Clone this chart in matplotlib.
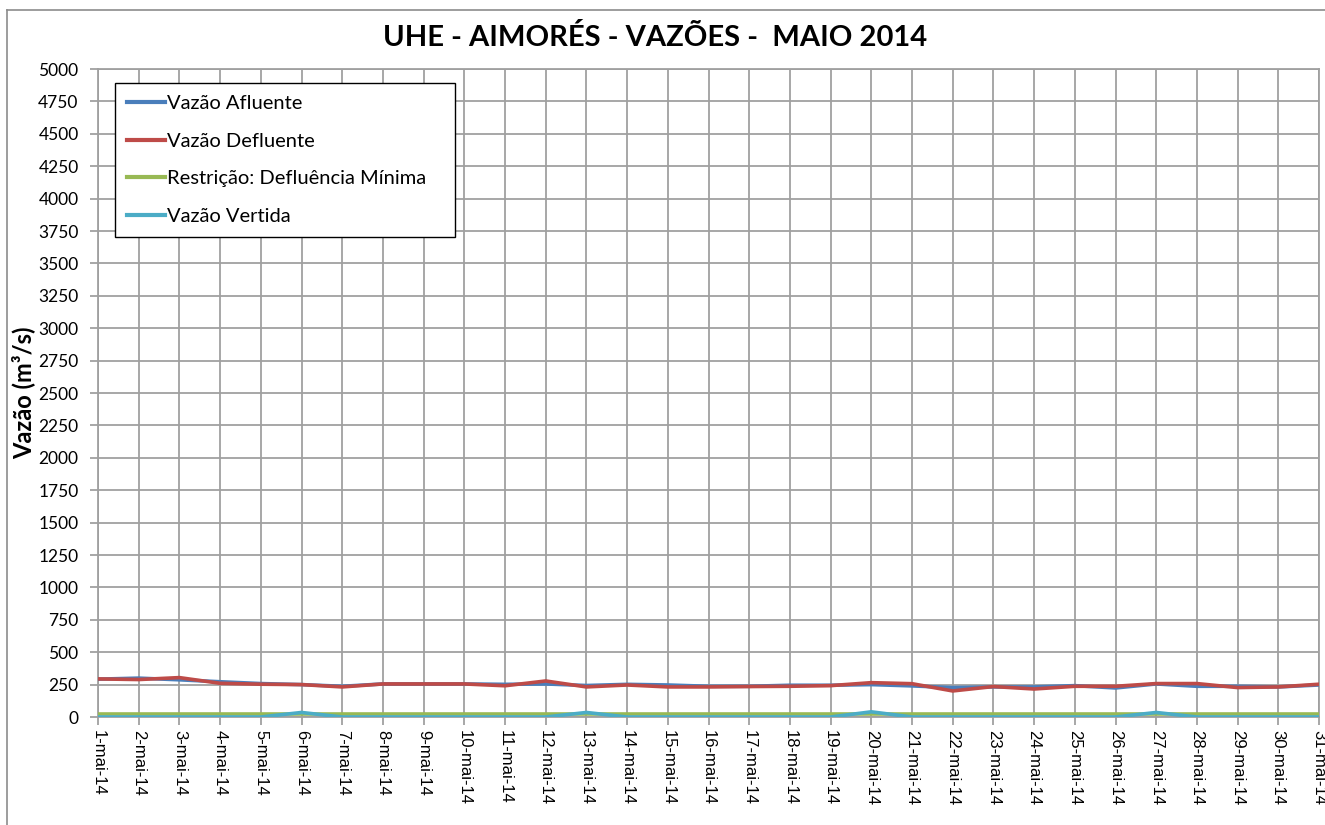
"""
UHE Aimores - vazoes diarias, maio 2014.
Recreates the Excel line chart with matplotlib.
"""

import matplotlib
matplotlib.use('Agg')
import matplotlib.pyplot as plt
from matplotlib.lines import Line2D

# daily values (m3/s)
dias = [f'{d}-mai-14' for d in range(1, 32)]

afluente = [292, 300, 287, 272, 258, 250, 237, 255, 255, 255, 252,
            255, 243, 252, 247, 237, 237, 245, 245, 250, 240,
            227, 232, 232, 242, 224, 255, 237, 237, 232, 247]

defluente = [294, 289, 304, 260, 253, 250, 232, 255, 255, 255, 241,
             278, 232, 247, 232, 232, 235, 237, 242, 265, 257,
             201, 235, 216, 237, 237, 258, 258, 227, 232, 253]

restricao = [20] * 31

vertida = [0, 0, 0, 0, 0, 35, 0, 0, 0, 0, 0,
           0, 35, 0, 0, 0, 0, 0, 0, 40, 0,
           0, 0, 0, 0, 0, 35, 0, 0, 0, 0]

BLUE = '#4A7EBB'
RED = '#BE4B48'
GREEN = '#98B954'
CYAN = '#4BACC6'
GRID = '#A0A0A0'

W, H = 1325, 825
fig = plt.figure(figsize=(W / 100, H / 100), dpi=100)
ax = fig.add_axes([98 / W, 1 - 717 / H, (1319 - 98) / W, (717 - 69) / H])

x = range(len(dias))
ax.plot(x, afluente, color=BLUE, lw=2.6, label='Vazão Afluente', zorder=3)
ax.plot(x, defluente, color=RED, lw=2.6, label='Vazão Defluente', zorder=4)
ax.plot(x, restricao, color=GREEN, lw=2.6, label='Restrição: Defluência Mínima', zorder=5)
ax.plot(x, vertida, color=CYAN, lw=2.6, label='Vazão Vertida', zorder=6)

ax.set_xlim(0, len(dias) - 1)
ax.set_ylim(0, 5000)
ax.set_yticks(range(0, 5001, 250))
ax.set_xticks(list(x))
ax.set_xticklabels(dias, rotation=270, fontsize=12, family='Liberation Sans')
for lab in ax.get_yticklabels():
    lab.set_family('Lato')
    lab.set_fontsize(12.5)

ax.grid(True, color=GRID, lw=1.3)
ax.set_axisbelow(True)
for s in ax.spines.values():
    s.set_color(GRID)
    s.set_linewidth(1.3)
ax.tick_params(axis='both', color=GRID, width=1.3, length=6, direction='out')
ax.tick_params(axis='x', pad=3)
ax.tick_params(axis='y', pad=8)

ax.set_ylabel('Vazão (m³/s)', fontsize=17, fontweight='bold', family='Lato', labelpad=2)

fig.text(655 / W, 1 - 37 / H, 'UHE - AIMORÉS - VAZÕES -  MAIO 2014',
         ha='center', va='center', fontsize=21, fontweight='bold', family='Lato')

leg = ax.legend(loc='upper left',
                bbox_to_anchor=(115 / W, 1 - 231 / H, 340 / W, 148 / H),
                bbox_transform=fig.transFigure, mode='expand',
                prop={'family': 'Lato', 'size': 14.5},
                frameon=True, fancybox=False, framealpha=1,
                handlelength=1.9, handletextpad=0.1, labelspacing=1.02,
                borderpad=0.6, borderaxespad=0)
leg.get_frame().set_edgecolor('black')
leg.get_frame().set_linewidth(1.0)
for ln in leg.get_lines():
    ln.set_linewidth(3)

# outer chart-area border (top and left edges visible)
fig.add_artist(Line2D([7 / W, 1.0], [1 - 10 / H, 1 - 10 / H], color='#8C8C8C', lw=1.2))
fig.add_artist(Line2D([7 / W, 7 / W], [0.0, 1 - 10 / H], color='#8C8C8C', lw=1.2))

plt.savefig('out.png', dpi=100)
plt.close()
